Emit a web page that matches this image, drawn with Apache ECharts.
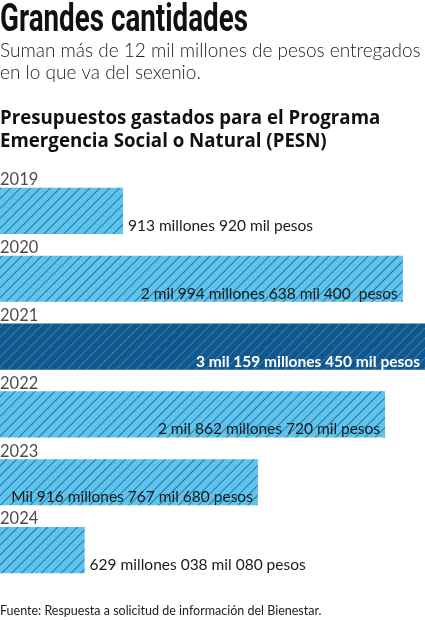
<!DOCTYPE html>
<html><head><meta charset="utf-8">
<script src="https://cdn.jsdelivr.net/npm/echarts@6/dist/echarts.min.js"></script>
<style>html,body{margin:0;padding:0;background:#fff}#c{width:425px;height:620px}</style>
</head><body><div id="c"></div>
<script>
const years = ['2019','2020','2021','2022','2023','2024'];
const valuesMillions = [913.92, 2994.6384, 3159.45, 2862.72, 1916.76768, 629.03808];
const valueLabels = [
  '913 millones 920 mil pesos',
  '2 mil 994 millones 638 mil 400  pesos',
  '3 mil 159 millones 450 mil pesos',
  '2 mil 862 millones 720 mil pesos',
  'Mil 916 millones 767 mil 680 pesos',
  '629 millones 038 mil 080 pesos'
];
const labelInside = [false, true, true, true, true, false];
const highlighted = [false, false, true, false, false, false];

const titleText = 'Grandes cantidades';
const subtitleLines = ['Suman más de 12 mil millones de pesos entregados', 'en lo que va del sexenio.'];
const headingLines = ['Presupuestos gastados para el Programa', 'Emergencia Social o Natural (PESN)'];
const sourceText = 'Fuente: Respuesta a solicitud de información del Bienestar.';

const LIGHT = '#5cc4ef', DARK = '#0f578c';
const FONT = 'Lato, "Open Sans", sans-serif';

function measure(text, font){
  const c = document.createElement('canvas').getContext('2d');
  c.font = font; return c.measureText(text).width;
}
const titleFont = 'bold 39px Roboto';
const titleScale = 248 / measure(titleText, titleFont);

const data = valuesMillions.map((v, i) => ({
  value: v,
  itemStyle: {
    color: highlighted[i] ? DARK : LIGHT,
    decal: {
      symbol: 'rect', symbolSize: 1,
      dashArrayX: [1, 0], dashArrayY: [1, 6],
      rotation: -Math.PI / 4,
      color: highlighted[i] ? 'rgba(110,160,200,0.5)' : 'rgba(25,70,100,0.65)'
    }
  },
  label: {
    show: true,
    formatter: valueLabels[i],
    position: labelInside[i] ? 'insideRight' : 'right',
    distance: 5,
    offset: [0, 15],
    color: highlighted[i] ? '#ffffff' : '#1a1a1a',
    fontWeight: highlighted[i] ? 'bold' : 'normal',
    fontSize: 15.5,
    fontFamily: FONT
  }
}));

const yearData = years.map((y, i) => [0, i]);

const chart = echarts.init(document.getElementById('c'), null, {renderer: 'canvas'});
chart.setOption({
  animation: false,
  aria: {enabled: true, decal: {show: true}},
  grid: {left: 0, right: 0, top: 177, bottom: 36, containLabel: false},
  xAxis: {type: 'value', min: 0, max: 3159.45, show: false},
  yAxis: {
    type: 'category', data: years, inverse: true, show: false
  },
  series: [{
    type: 'bar', data: data, barCategoryGap: '32%'
  }, {
    type: 'scatter', data: yearData, symbolSize: 0, silent: true, z: 5,
    label: {
      show: true, position: 'right', distance: 0, offset: [0, -31],
      formatter: p => years[p.dataIndex],
      color: '#1a1a1a', fontSize: 16.5, fontFamily: FONT
    }
  }],
  graphic: [
    {type: 'text', left: 0, top: 2, scaleX: titleScale, originX: 0,
     style: {text: titleText, font: titleFont, fill: '#111'}},
    {type: 'text', left: 0, top: 40,
     style: {text: subtitleLines.join('\n'), font: '300 19px ' + FONT, lineHeight: 22, fill: '#222'}},
    {type: 'text', left: 0, top: 107,
     style: {text: headingLines.join('\n'), font: 'bold 18.7px "Open Sans", sans-serif', lineHeight: 23, fill: '#111'}},
    {type: 'text', left: 0, top: 604,
     style: {text: sourceText, font: '12.5px ' + FONT, fill: '#222'}}
  ]
});
</script></body></html>
